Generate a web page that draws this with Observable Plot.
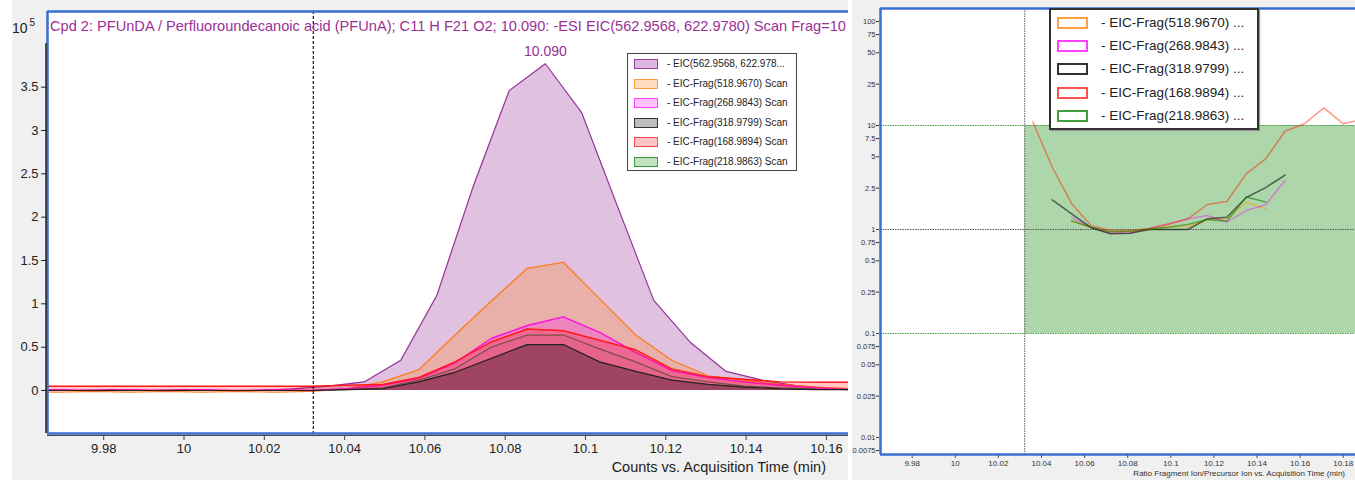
<!DOCTYPE html>
<html>
<head>
<meta charset="utf-8">
<script src="https://cdn.jsdelivr.net/npm/d3@7"></script>
<script src="https://cdn.jsdelivr.net/npm/@observablehq/plot@0.6"></script>
<style>
  html, body { margin: 0; padding: 0; background: #ffffff; }
  body { font-family: "Liberation Sans", Arial, sans-serif; }
  #root { position: relative; width: 1355px; height: 480px; overflow: hidden; background: #ffffff; }
  #leftBg { position: absolute; left: 12px; top: 0; width: 836px; height: 480px; background: #f0f0f0; }
  #left { position: absolute; left: 0; top: 0; width: 848px; height: 480px; overflow: hidden; }
  #right { position: absolute; left: 852px; top: 0; width: 503px; height: 480px; overflow: hidden; background: #f0f0f0; }
  .abs { position: absolute; white-space: nowrap; }
  #title { left: 50px; top: 18px; font-size: 14.6px; color: #9b2f96; }
  #exp { left: 12px; top: 18px; font-size: 14px; color: #222; }
  #exp sup { font-size: 10px; position: relative; top: -1px; margin-left: 2px; }
  #xtitleL { right: 22px; top: 459px; font-size: 14.5px; color: #222; }
  #xtitleR { right: 10px; top: 469px; font-size: 8px; color: #333; }
  .legend { position: absolute; background: #fff; box-sizing: border-box; }
  #legendL { left: 627px; top: 53px; width: 170px; height: 118px; border: 1px solid #444; }
  #legendR { left: 197px; top: 8px; width: 210px; height: 122px; border: 2px solid #333; box-shadow: 1px 1px 1px #999; }
  .row { position: absolute; left: 0; white-space: nowrap; color: #222; }
  .sw { position: absolute; box-sizing: border-box; }
</style>
</head>
<body>
<div id="root">
  <div id="leftBg"></div>
  <div id="left"></div>
  <div id="right"></div>
</div>
<script>
// ---------------- DATA ----------------
// Left panel: EIC traces (counts x 10^5) vs acquisition time (min)
const precursorTimes = [9.964, 9.973, 9.982, 9.991, 10.000, 10.009, 10.018, 10.027, 10.036, 10.045, 10.054, 10.063, 10.072, 10.081, 10.090, 10.099, 10.108, 10.117, 10.126, 10.135, 10.144, 10.153, 10.162, 10.171, 10.180, 10.189];
const eicPrecursor   = [0.01, 0.00, 0.01, 0.00, 0.01, 0.00, 0.00, 0.02, 0.05, 0.10, 0.35, 1.10, 2.35, 3.46, 3.77, 3.21, 2.12, 1.04, 0.56, 0.22, 0.12, 0.05, 0.02, 0.02, 0.02, 0.02];

const fragmentTimes = [9.9595, 9.9685, 9.9775, 9.9865, 9.9955, 10.0045, 10.0135, 10.0225, 10.0315, 10.0405, 10.0495, 10.0585, 10.0675, 10.0765, 10.0855, 10.0945, 10.1035, 10.1125, 10.1215, 10.1305, 10.1395, 10.1485, 10.1575, 10.1665, 10.1755, 10.1845];
const frag518 = [-0.01, -0.02, -0.01, -0.02, -0.01, -0.02, -0.01, -0.02, -0.01, 0.02, 0.10, 0.24, 0.64, 1.03, 1.41, 1.48, 1.06, 0.64, 0.35, 0.17, 0.12, 0.07, 0.04, 0.02, 0.00, 0.00];
const frag268 = [0.00, 0.01, 0.00, 0.01, 0.00, 0.01, 0.00, 0.01, 0.00, 0.02, 0.06, 0.14, 0.32, 0.60, 0.75, 0.85, 0.67, 0.44, 0.23, 0.15, 0.10, 0.06, 0.03, 0.01, 0.01, 0.01];
const frag318 = [0.00, 0.00, 0.00, 0.00, 0.00, 0.00, 0.00, 0.00, 0.00, 0.01, 0.02, 0.10, 0.21, 0.37, 0.53, 0.53, 0.33, 0.22, 0.12, 0.07, 0.04, 0.02, 0.01, 0.01, 0.01, 0.01];
const frag168 = [0.05, 0.05, 0.05, 0.05, 0.05, 0.05, 0.05, 0.05, 0.05, 0.06, 0.07, 0.15, 0.33, 0.56, 0.71, 0.69, 0.58, 0.47, 0.25, 0.16, 0.13, 0.10, 0.095, 0.095, 0.09, 0.09];
const frag218 = [0.00, 0.00, 0.00, 0.00, 0.00, 0.00, 0.00, 0.00, 0.00, 0.01, 0.03, 0.12, 0.25, 0.50, 0.64, 0.64, 0.48, 0.33, 0.16, 0.10, 0.05, 0.03, 0.02, 0.01, 0.01, 0.01];

const apexTime = 10.090;
const apexLabel = "10.090";
const markerTime = 10.0322;

const leftYTicks = [0, 0.5, 1, 1.5, 2, 2.5, 3, 3.5];
const leftXTicks = [9.98, 10, 10.02, 10.04, 10.06, 10.08, 10.1, 10.12, 10.14, 10.16];
const leftXDomain = [9.966, 10.1655];
const leftYDomain = [-0.496, 4.373];
const leftAxisTop = 4.0;

const leftTitle = "Cpd 2: PFUnDA / Perfluoroundecanoic acid (PFUnA); C11 H F21 O2; 10.090: -ESI EIC(562.9568, 622.9780) Scan Frag=10";
const leftXTitle = "Counts vs. Acquisition Time (min)";
const legendLeftLabels = ["- EIC(562.9568, 622.978...", "- EIC-Frag(518.9670) Scan", "- EIC-Frag(268.9843) Scan", "- EIC-Frag(318.9799) Scan", "- EIC-Frag(168.9894) Scan", "- EIC-Frag(218.9863) Scan"];

// Right panel: ratio fragment ion / precursor ion (log scale)
const ratioTimes = [10.036, 10.045, 10.054, 10.063, 10.072, 10.081, 10.090, 10.099, 10.108, 10.117, 10.126, 10.135, 10.144, 10.153, 10.162, 10.171, 10.180, 10.189];
const ratio518 = [null, null, 1.20, 1.05, 0.95, 0.95, 0.99, 1.07, 1.07, 1.24, 1.26, 1.83, 1.58, null, null, null, null, null];
const ratio268 = [null, null, 1.31, 1.05, 0.92, 0.92, 1.02, 1.13, 1.27, 1.36, 1.18, 1.52, 1.73, 2.96, null, null, null, null];
const ratio318 = [null, 1.93, 1.41, 1.04, 0.91, 0.92, 1.00, 1.00, 1.00, 1.27, 1.31, 2.03, 2.53, 3.34, null, null, null, null];
const ratio168 = [10.8, 3.97, 1.77, 1.09, 0.98, 0.98, 1.02, 1.13, 1.27, 1.74, 1.86, 3.43, 4.78, 8.8, 10.4, 14.8, 10.4, 11.5];
const ratio218 = [null, null, 1.21, 1.05, 0.95, 0.96, 1.01, 1.05, 1.12, 1.25, 1.20, 2.05, 1.84, null, null, null, null, null];

const ratioBandLow = 0.1;
const ratioBandHigh = 10;
const ratioReference = 1;
const rightXDomain = [9.9653, 10.1857];
const rightYDomain = [0.00686, 133.4];
const rightYTicks = [100, 75, 50, 25, 10, 7.5, 5, 2.5, 1, 0.75, 0.5, 0.25, 0.1, 0.075, 0.05, 0.025, 0.01, 0.0075];
const rightXTicks = [9.98, 10, 10.02, 10.04, 10.06, 10.08, 10.1, 10.12, 10.14, 10.16, 10.18];
const rightXTitle = "Ratio Fragment Ion/Precursor Ion vs. Acquisition Time (min)";
const legendRightLabels = ["- EIC-Frag(518.9670) ...", "- EIC-Frag(268.9843) ...", "- EIC-Frag(318.9799) ...", "- EIC-Frag(168.9894) ...", "- EIC-Frag(218.9863) ..."];

// ---------------- STYLE ----------------
const BLUE = "#3a6fd2";
const FONT = "Liberation Sans, Arial, sans-serif";
const rows = (times, values) => times.map((t, i) => ({t, v: values[i]}));

// left series: draw order
const leftSeries = [
  {values: eicPrecursor, times: precursorTimes, stroke: "#993399", fill: "#993399", fo: 0.3, sw: 1.2},
  {values: frag518, times: fragmentTimes, stroke: "#ff7a1a", fill: "#ff8000", fo: 0.25, sw: 1.2},
  {values: frag218, times: fragmentTimes, stroke: "#208a20", fill: "#008000", fo: 0.08, sw: 1.2},
  {values: frag268, times: fragmentTimes, stroke: "#ff10e0", fill: "#ff00ff", fo: 0.25, sw: 1.4},
  {values: frag168, times: fragmentTimes, stroke: "#ff1a1a", fill: "#ff0000", fo: 0.22, sw: 1.4},
  {values: frag318, times: fragmentTimes, stroke: "#222222", fill: "#000000", fo: 0.3, sw: 1.2}
];

const leftMarks = [Plot.frame({fill: "#ffffff", stroke: null})];
for (const s of leftSeries) {
  const data = rows(s.times, s.values);
  leftMarks.push(Plot.areaY(data, {x: "t", y: "v", fill: s.fill, fillOpacity: s.fo, clip: true}));
  leftMarks.push(Plot.lineY(data, {x: "t", y: "v", stroke: s.stroke, strokeWidth: s.sw, clip: true}));
}
leftMarks.push(
  Plot.ruleX([markerTime], {stroke: "#111", strokeWidth: 1.2, strokeDasharray: "3,2"}),
  Plot.text([{t: apexTime, v: eicPrecursor[precursorTimes.indexOf(apexTime)]}], {x: "t", y: "v", text: () => apexLabel, dy: -12, fill: "#9b2f96", fontSize: 14}),
  Plot.ruleX([leftXDomain[0]], {stroke: BLUE, strokeWidth: 2.5}),
  Plot.ruleY([leftYDomain[1]], {stroke: BLUE, strokeWidth: 2.5}),
  Plot.ruleY([leftYDomain[0]], {stroke: BLUE, strokeWidth: 2.5}),
  Plot.ruleX([leftXDomain[0]], {y1: leftYDomain[0], y2: leftAxisTop, stroke: "#222", strokeWidth: 1.5, dx: -1.5}),
  Plot.ruleY([leftYDomain[0]], {stroke: "#444", strokeWidth: 1, dy: 2}),
  Plot.axisY(leftYTicks, {tickSize: 6, tickPadding: 3, fontSize: 13, text: d => String(d), label: null, stroke: "#222", fill: "#222"}),
  Plot.axisX(leftXTicks, {tickSize: 5, tickPadding: 3, fontSize: 13, text: d => String(d), label: null, stroke: "#444", fill: "#222", dy: 2})
);

const leftPlot = Plot.plot({
  width: 848, height: 480,
  marginLeft: 47, marginRight: 0, marginTop: 11, marginBottom: 47,
  x: {domain: leftXDomain},
  y: {domain: leftYDomain},
  style: {background: "transparent", fontFamily: FONT, overflow: "hidden"},
  marks: leftMarks
});
const leftEl = document.getElementById("left");
leftEl.appendChild(leftPlot);

function addDiv(parent, cls, id, html) {
  const d = document.createElement("div");
  d.className = cls; if (id) d.id = id; d.innerHTML = html;
  parent.appendChild(d); return d;
}
addDiv(leftEl, "abs", "title", leftTitle);
addDiv(leftEl, "abs", "exp", "10<sup>5</sup>");
addDiv(leftEl, "abs", "xtitleL", leftXTitle);

// left legend
const legendLeftStyles = [
  {fill: "#dcb8dc", stroke: "#9b3a9b"},
  {fill: "#ffdcbc", stroke: "#ff9a3c"},
  {fill: "#ffc4ff", stroke: "#ff40ff"},
  {fill: "#bdbdbd", stroke: "#333333"},
  {fill: "#ffc4c4", stroke: "#ff4646"},
  {fill: "#c0e0c0", stroke: "#3a9a3a"}
];
const legL = addDiv(leftEl, "legend", "legendL", "");
legendLeftLabels.forEach((lab, i) => {
  const cy = 10 + i * 19.5;
  const sw = document.createElement("div");
  sw.className = "sw";
  Object.assign(sw.style, {left: "6px", top: (cy - 5) + "px", width: "24px", height: "10px", background: legendLeftStyles[i].fill, border: "1.5px solid " + legendLeftStyles[i].stroke});
  legL.appendChild(sw);
  const r = document.createElement("div");
  r.className = "row";
  Object.assign(r.style, {left: "39px", top: (cy - 7) + "px", fontSize: "10px", lineHeight: "13px"});
  r.textContent = lab;
  legL.appendChild(r);
});

// ---------------- RIGHT PANEL ----------------
const rightSeries = [
  {values: ratio518, stroke: "#ff9a00", op: 0.55},
  {values: ratio268, stroke: "#ff00ff", op: 0.4},
  {values: ratio318, stroke: "#000000", op: 0.55},
  {values: ratio168, stroke: "#ff2a00", op: 0.5},
  {values: ratio218, stroke: "#008000", op: 0.55}
];
const rightMarks = [
  Plot.frame({fill: "#ffffff", stroke: null}),
  Plot.rect([{x1: markerTime, x2: rightXDomain[1], y1: ratioBandLow, y2: ratioBandHigh}], {x1: "x1", x2: "x2", y1: "y1", y2: "y2", fill: "#aed6ab"}),
  Plot.ruleY([ratioBandLow, ratioBandHigh], {stroke: "#3f9f3f", strokeWidth: 1, strokeDasharray: "1.5,1"}),
  Plot.ruleY([ratioReference], {stroke: "#555", strokeWidth: 1.2, strokeDasharray: "1.5,1"}),
  Plot.ruleX([markerTime], {stroke: "#777", strokeWidth: 1.2, strokeDasharray: "1.5,1"})
];
for (const s of rightSeries) {
  rightMarks.push(Plot.lineY(rows(ratioTimes, s.values), {x: "t", y: "v", stroke: s.stroke, strokeOpacity: s.op, strokeWidth: 1.5, clip: true}));
}
rightMarks.push(
  Plot.ruleX([rightXDomain[0]], {stroke: BLUE, strokeWidth: 2.5}),
  Plot.ruleY([rightYDomain[1]], {stroke: BLUE, strokeWidth: 2.5}),
  Plot.ruleY([rightYDomain[0]], {stroke: BLUE, strokeWidth: 2.5}),
  Plot.axisY(rightYTicks, {tickSize: 3, tickPadding: 1, fontSize: 7.5, text: d => String(d), label: null, stroke: "#333", fill: "#333", dx: -1}),
  Plot.axisX(rightXTicks, {tickSize: 3, tickPadding: 2, fontSize: 8, text: d => String(d), label: null, stroke: "#555", fill: "#333", dy: 1})
);
const rightPlot = Plot.plot({
  width: 503, height: 480,
  marginLeft: 28, marginRight: 0, marginTop: 8, marginBottom: 26,
  x: {domain: rightXDomain},
  y: {type: "log", domain: rightYDomain},
  style: {background: "transparent", fontFamily: FONT, overflow: "hidden"},
  marks: rightMarks
});
const rightEl = document.getElementById("right");
rightEl.appendChild(rightPlot);
addDiv(rightEl, "abs", "xtitleR", rightXTitle);

const legendRightStrokes = ["#ffa040", "#ff40ff", "#333333", "#ff5050", "#40a040"];
const legR = addDiv(rightEl, "legend", "legendR", "");
legendRightLabels.forEach((lab, i) => {
  const cy = 12.5 + i * 23.4;
  const sw = document.createElement("div");
  sw.className = "sw";
  Object.assign(sw.style, {left: "6px", top: (cy - 6) + "px", width: "31px", height: "12px", border: "2px solid " + legendRightStrokes[i], background: "#fff"});
  legR.appendChild(sw);
  const r = document.createElement("div");
  r.className = "row";
  Object.assign(r.style, {left: "50px", top: (cy - 8) + "px", fontSize: "13.5px", lineHeight: "16px"});
  r.textContent = lab;
  legR.appendChild(r);
});
</script>
</body>
</html>
